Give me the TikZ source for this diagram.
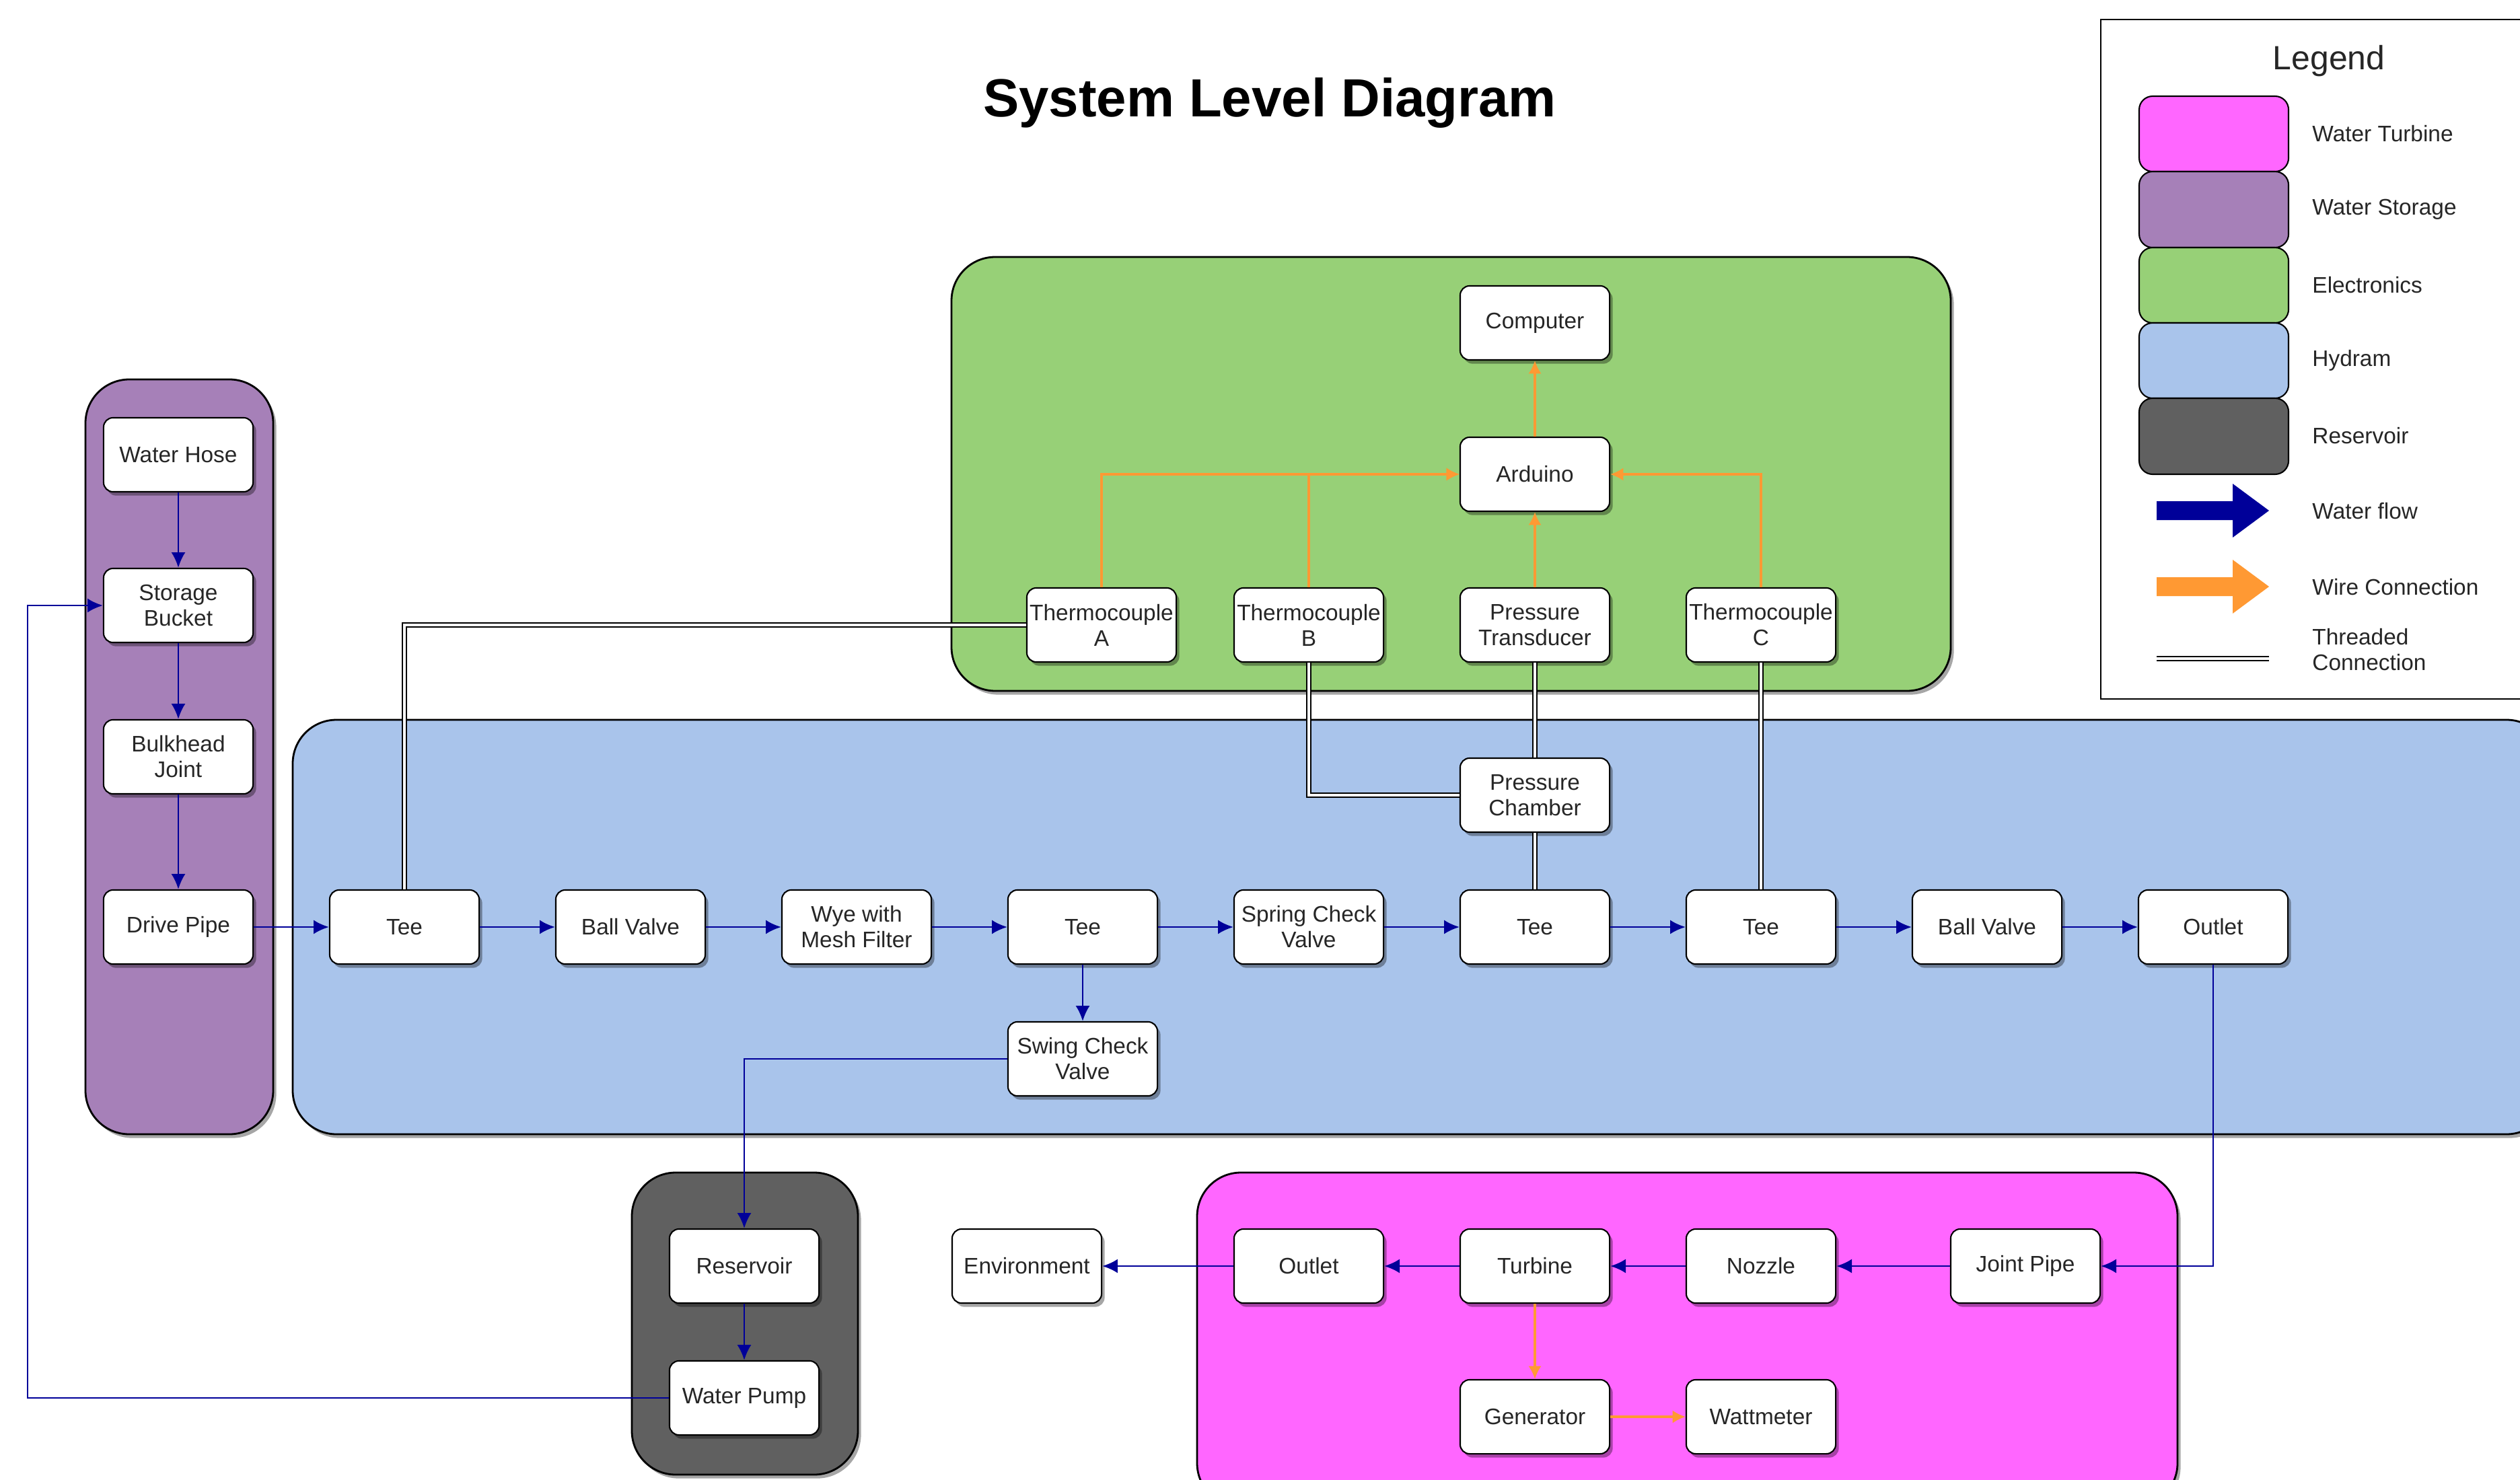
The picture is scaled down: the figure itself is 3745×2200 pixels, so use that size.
\documentclass[tikz,border=0pt]{standalone}
\usepackage{fontspec}
\setmainfont{Liberation Sans}
\usetikzlibrary{arrows.meta,shadows,calc}
\definecolor{turbc}{HTML}{FF66FF}
\definecolor{storc}{HTML}{A680B8}
\definecolor{elecc}{HTML}{97D077}
\definecolor{hydc}{HTML}{A9C4EB}
\definecolor{resc}{HTML}{606060}
\definecolor{navyc}{HTML}{000099}
\definecolor{wirec}{HTML}{FF9933}
\definecolor{txtc}{HTML}{262626}
\begin{document}
\begin{tikzpicture}[x=0.01cm,y=-0.01cm,
  shad/.style={drop shadow={shadow xshift=1.3pt,shadow yshift=-1.6pt,fill=black,opacity=0.35}},
  box/.style={draw=black,line width=0.6pt,fill=white,rounded corners=0.14cm,
    minimum width=2.22cm,minimum height=1.10cm,align=center,inner sep=1pt,
    font=\fontsize{9.5}{10.8}\selectfont,text=txtc,shad},
  grp/.style={draw=black,line width=0.8pt,rounded corners=0.65cm,shad},
  flow/.style={draw=navyc,line width=0.8pt,-{Latex[length=6.5pt,width=6pt]}},
  wire/.style={draw=wirec,line width=0.9pt,-{Latex[length=5.5pt,width=5.5pt]}},
  thread/.style={draw=black,line width=0.5pt,double=white,double distance=1.3pt},
  leglabel/.style={anchor=west,font=\fontsize{9.5}{10.8}\selectfont,text=txtc,align=left},
  swatch/.style={draw=black,line width=0.6pt,rounded corners=0.2cm}]
\useasboundingbox (0,0) rectangle (3745,2200);
\clip (0,0) rectangle (3745,2200);
\fill[white] (0,0) rectangle (3745,2200);

% title
\node (title) at (1887,153) {\fontsize{22.7}{27}\selectfont\bfseries System Level Diagram};

% containers
\path[grp,fill=storc] (127,564) rectangle (406,1686);
\path[grp,fill=hydc] (435,1070) rectangle (3790,1686);
\path[grp,fill=elecc] (1414,382) rectangle (2899,1027);
\path[grp,fill=resc] (939,1743) rectangle (1275,2192);
\path[grp,fill=turbc] (1779,1743) rectangle (3236,2240);

% legend
\draw[line width=0.7pt] (3122,29) rectangle (3800,1039);
\node (legtitle) at (3461,91) {\fontsize{14.2}{17}\selectfont\color{txtc}Legend};
\draw[swatch,fill=turbc] (3179,143) rectangle (3401,255);
\draw[swatch,fill=storc] (3179,255) rectangle (3401,368);
\draw[swatch,fill=elecc] (3179,368) rectangle (3401,480);
\draw[swatch,fill=hydc] (3179,480) rectangle (3401,592);
\draw[swatch,fill=resc] (3179,592) rectangle (3401,705);
\node[leglabel] (l1) at (3424,199) {Water Turbine};
\node[leglabel] (l2) at (3424,311) {Water Storage};
\node[leglabel] (l3) at (3424,424) {Electronics};
\node[leglabel] (l4) at (3424,536) {Hydram};
\node[leglabel] (l5) at (3424,648) {Reservoir};
\node[leglabel] (l6) at (3424,760) {Water flow};
\node[leglabel] (l7) at (3424,873) {Wire Connection};
\node[leglabel] (l8) at (3424,966) {Threaded\\Connection};
\fill[navyc] (3205,745) -- (3318,745) -- (3318,719) -- (3372,759) -- (3318,799) -- (3318,773) -- (3205,773) -- cycle;
\fill[wirec] (3205,858) -- (3318,858) -- (3318,832) -- (3372,872) -- (3318,912) -- (3318,886) -- (3205,886) -- cycle;
\draw[thread] (3205,979) -- (3372,979);

% water storage
\node[box] (hose) at (265,676) {Water Hose};
\node[box] (bucket) at (265,900) {Storage\\Bucket};
\node[box] (bulk) at (265,1125) {Bulkhead\\Joint};
\node[box] (drive) at (265,1378) {Drive Pipe};

% hydram row
\node[box] (tee1) at (601,1378) {Tee};
\node[box] (ball1) at (937,1378) {Ball Valve};
\node[box] (wye) at (1273,1378) {Wye with\\Mesh Filter};
\node[box] (tee2) at (1609,1378) {Tee};
\node[box] (spring) at (1945,1378) {Spring Check\\Valve};
\node[box] (tee3) at (2281,1378) {Tee};
\node[box] (tee4) at (2617,1378) {Tee};
\node[box] (ball2) at (2953,1378) {Ball Valve};
\node[box] (outl1) at (3289,1378) {Outlet};
\node[box] (swing) at (1609,1574) {Swing Check\\Valve};
\node[box] (pch) at (2281,1182) {Pressure\\Chamber};

% electronics
\node[box] (comp) at (2281,480) {Computer};
\node[box] (ard) at (2281,705) {Arduino};
\node[box] (tca) at (1637,929) {Thermocouple\\A};
\node[box] (tcb) at (1945,929) {Thermocouple\\B};
\node[box] (ptr) at (2281,929) {Pressure\\Transducer};
\node[box] (tcc) at (2617,929) {Thermocouple\\C};

% reservoir
\node[box] (res) at (1106,1882) {Reservoir};
\node[box] (pump) at (1106,2078) {Water Pump};
\node[box] (env) at (1526,1882) {Environment};

% turbine
\node[box] (outl2) at (1945,1882) {Outlet};
\node[box] (turb) at (2281,1882) {Turbine};
\node[box] (noz) at (2617,1882) {Nozzle};
\node[box] (joint) at (3010,1882) {Joint Pipe};
\node[box] (gen) at (2281,2106) {Generator};
\node[box] (watt) at (2617,2106) {Wattmeter};

% water flow
\draw[flow] (hose) -- (bucket);
\draw[flow] (bucket) -- (bulk);
\draw[flow] (bulk) -- (drive);
\draw[flow] (drive) -- (tee1);
\draw[flow] (tee1) -- (ball1);
\draw[flow] (ball1) -- (wye);
\draw[flow] (wye) -- (tee2);
\draw[flow] (tee2) -- (spring);
\draw[flow] (spring) -- (tee3);
\draw[flow] (tee3) -- (tee4);
\draw[flow] (tee4) -- (ball2);
\draw[flow] (ball2) -- (outl1);
\draw[flow] (tee2) -- (swing);
\draw[flow] (swing.west) -| (res.north);
\draw[flow] (res) -- (pump);
\coordinate (loopl) at (41,2078);
\draw[flow] (pump.west) -- (loopl) |- (bucket.west);
\draw[flow] (outl1.south) |- (joint.east);
\draw[flow] (joint) -- (noz);
\draw[flow] (noz) -- (turb);
\draw[flow] (turb) -- (outl2);
\draw[flow] (outl2) -- (env);

% wires
\draw[wire] (ard) -- (comp);
\draw[wire] (ptr) -- (ard);
\draw[wire] (tca.north) |- (ard.west);
\draw[wire] (tcb.north) |- (ard.west);
\draw[wire] (tcc.north) |- (ard.east);
\draw[wire] (turb) -- (gen);
\draw[wire] (gen) -- (watt);

% threaded
\draw[thread] (tca.west) -| (tee1.north);
\draw[thread] (tcb.south) |- (pch.west);
\draw[thread] (ptr) -- (pch);
\draw[thread] (pch) -- (tee3);
\draw[thread] (tcc) -- (tee4);
\end{tikzpicture}
\end{document}
